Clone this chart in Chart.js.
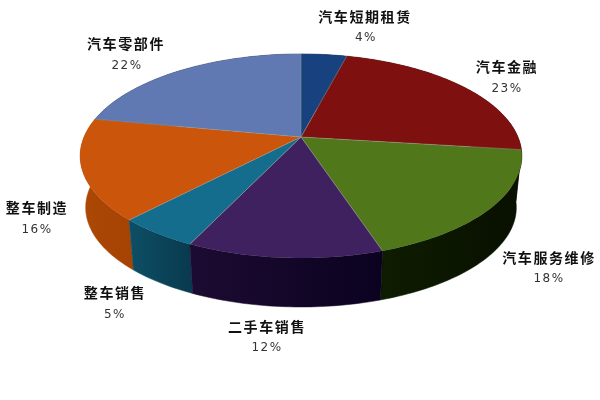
<!DOCTYPE html>
<html><head><meta charset="utf-8">
<style>html,body{margin:0;padding:0;background:#fff}canvas{display:block}</style>
<script src="https://cdn.jsdelivr.net/npm/chart.js@4"></script>
</head><body><canvas id="c" width="600" height="400"></canvas>
<script>
const categories = ["汽车短期租赁","汽车金融","汽车服务维修","二手车销售","整车销售","整车制造","汽车零部件"];
const values = [4,23,18,12,5,16,22];
const topColors = ["#17427f","#7e100f","#50781a","#40215f","#156d8e","#cb550a","#6079b2"];
const sideColorsA = ["#0c2144","#430807","#0e1c00","#1c0b32","#0d4f66","#ad4805","#303c59"];
const sideColorsB = ["#0c2144","#430807","#081000","#0b0220","#093a4f","#a54304","#303c59"];
const labelCenters = [[365,17],[507,67],[549,258],[267,327],[115,293],[37,208],[126,44]];
const pctCenters = [[366,38],[507,89],[549,279],[267,348],[115,315],[37,230],[127,66]];

// Perspective of the tilted disc
const apex = {x:301, y:137}, Rx = 217, Ry = 98.5, k = 0.186, bottomScale = 0.975, bottomY = 189;
function proj(a, bottom){
  const u = Math.cos(a), v = Math.sin(a), w = 1 - k*v;
  const s = bottom ? bottomScale : 1, y0 = bottom ? bottomY : apex.y;
  return [apex.x + s*Rx*u/w, y0 + s*Ry*v/w];
}
function arcPts(a0, a1, bottom){
  const n = Math.max(2, Math.ceil((a1-a0)/0.02)), pts = [];
  for(let i=0;i<=n;i++) pts.push(proj(a0+(a1-a0)*i/n, bottom));
  return pts;
}
const pie3d = {
  id:'pie3d',
  beforeDatasetDraw(chart){
    const ctx = chart.ctx, arcs = chart.getDatasetMeta(0).data;
    const order = arcs.map((e,i)=>i).sort((p,q)=>{
      const m = e => Math.sin((e.startAngle+e.endAngle)/2);
      return m(arcs[p])-m(arcs[q]);
    });
    ctx.save();
    // side walls
    order.forEach(i=>{
      const e = arcs[i];
      const t = arcPts(e.startAngle,e.endAngle,false), b = arcPts(e.startAngle,e.endAngle,true).reverse();
      const xs = t.map(p=>p[0]);
      const g = ctx.createLinearGradient(Math.min(...xs),0,Math.max(...xs)+0.1,0);
      g.addColorStop(0,sideColorsA[i]); g.addColorStop(1,sideColorsB[i]);
      ctx.beginPath();
      t.concat(b).forEach((p,j)=> j?ctx.lineTo(p[0],p[1]):ctx.moveTo(p[0],p[1]));
      ctx.closePath();
      ctx.fillStyle = g; ctx.strokeStyle = g; ctx.lineWidth = 0.5;
      ctx.fill(); ctx.stroke();
    });
    // top faces
    arcs.forEach((e,i)=>{
      ctx.beginPath(); ctx.moveTo(apex.x,apex.y);
      arcPts(e.startAngle,e.endAngle,false).forEach(p=>ctx.lineTo(p[0],p[1]));
      ctx.closePath();
      ctx.fillStyle = topColors[i]; ctx.fill();
    });
    // separators
    ctx.strokeStyle = 'rgba(150,150,140,0.55)'; ctx.lineWidth = 1;
    arcs.forEach(e=>{
      const p = proj(e.startAngle,false);
      ctx.beginPath(); ctx.moveTo(apex.x,apex.y); ctx.lineTo(p[0],p[1]); ctx.stroke();
    });
    // labels
    ctx.textAlign='center'; ctx.textBaseline='middle';
    categories.forEach((c,i)=>{
      ctx.fillStyle='#111';
      ctx.font='bold 14px "Noto Sans CJK SC"';
      ctx.letterSpacing='1.6px';
      ctx.fillText(c,labelCenters[i][0],labelCenters[i][1]);
      ctx.fillStyle='#333';
      ctx.font='12px "DejaVu Sans"';
      ctx.letterSpacing='1.5px';
      ctx.fillText(values[i]+'%',pctCenters[i][0],pctCenters[i][1]);
    });
    ctx.restore();
    return false;
  }
};
new Chart(document.getElementById('c'),{
  type:'pie',
  data:{labels:categories,datasets:[{data:values,backgroundColor:topColors,borderWidth:0}]},
  options:{responsive:false,animation:false,plugins:{legend:{display:false},tooltip:{enabled:false}}},
  plugins:[pie3d]
});
</script></body></html>
